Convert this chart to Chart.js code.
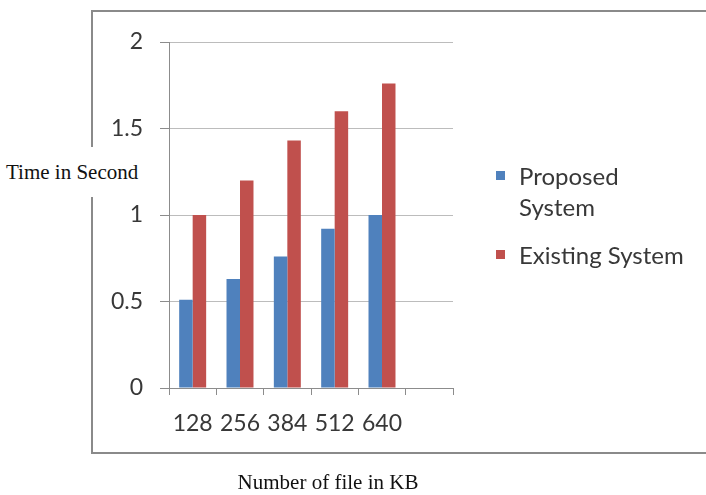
<!DOCTYPE html>
<html>
<head>
<meta charset="utf-8">
<script src="https://cdn.jsdelivr.net/npm/chart.js@4/dist/chart.umd.min.js"></script>
<style>
  body { margin: 0; background: #fff; }
  #wrap { position: relative; width: 706px; height: 495px; overflow: hidden; }
  #frame {
    position: absolute; left: 91px; top: 10px; width: 640px; height: 440px;
    border: 2px solid #8a8a8a;
  }
  canvas { position: absolute; left: 0; top: 0; }
  .axis-title {
    position: absolute; font-family: "Liberation Serif", "Times New Roman", serif;
    font-size: 21px; color: #111; background: #fff; white-space: nowrap;
  }
  #ytitle { left: 0; top: 147px; height: 50px; line-height: 50px; padding: 0 4px 0 6px; }
  #xtitle { left: 0; width: 656px; top: 470px; text-align: center; background: none; }
  #legend {
    position: absolute; left: 496px; top: 160px;
    font-family: Lato, "Open Sans", sans-serif; font-size: 24px; color: #383838;
  }
  .item { position: relative; padding-left: 23px; line-height: 31px; margin-bottom: 17px; }
  .box { position: absolute; left: 0; top: 11px; width: 9px; height: 9px; }
</style>
</head>
<body>
<div id="wrap">
  <div id="frame"></div>
  <canvas id="chart" width="706" height="495"></canvas>
  <div id="ytitle" class="axis-title">Time in Second</div>
  <div id="xtitle" class="axis-title">Number of file in KB</div>
  <div id="legend"></div>
</div>
<script>
const categories = ["128", "256", "384", "512", "640", ""];
const proposed = [0.51, 0.63, 0.76, 0.92, 1.0];
const existing = [1.0, 1.2, 1.43, 1.6, 1.76];
const seriesNames = ["Proposed System", "Existing System"];
const legendLines = [["Proposed", "System"], ["Existing System"]];
const seriesColors = ["#4F81BD", "#C0504D"];
const yTicks = [0, 0.5, 1, 1.5, 2];

const tickFont = { family: "Lato, 'Open Sans', sans-serif", size: 23 };

const ctx = document.getElementById("chart").getContext("2d");
new Chart(ctx, {
  type: "bar",
  data: {
    labels: categories,
    datasets: [
      {
        label: seriesNames[0],
        data: proposed,
        backgroundColor: seriesColors[0],
      },
      {
        label: seriesNames[1],
        data: existing,
        backgroundColor: seriesColors[1],
      },
    ],
  },
  options: {
    responsive: false,
    animation: false,
    layout: { padding: { top: 42, right: 253, left: 0, bottom: 0 } },
    datasets: {
      bar: { categoryPercentage: 0.57, barPercentage: 1.0 },
    },
    scales: {
      x: {
        grid: {
          offset: true,
          drawOnChartArea: false,
          drawTicks: true,
          tickLength: 7,
          color: "#8c8c8c",
        },
        border: { color: "#8c8c8c" },
        ticks: { color: "#383838", font: tickFont, padding: 15, maxRotation: 0 },
        afterFit: (scale) => {
          scale.height = 107;
        },
      },
      y: {
        min: yTicks[0],
        max: yTicks[yTicks.length - 1],
        afterBuildTicks: (scale) => {
          scale.ticks = yTicks.map((v) => ({ value: v }));
        },
        grid: { color: "#bcbcbc", tickLength: 9, tickColor: "#8c8c8c" },
        border: { color: "#8c8c8c" },
        ticks: {
          color: "#383838",
          font: tickFont,
          padding: 17,
          callback: (value) => String(value),
        },
        afterFit: (scale) => {
          scale.width = 169;
        },
      },
    },
    plugins: {
      legend: { display: false },
      tooltip: { enabled: false },
    },
  },
});

const legend = document.getElementById("legend");
seriesNames.forEach((name, i) => {
  const item = document.createElement("div");
  item.className = "item";
  item.innerHTML =
    `<span class="box" style="background:${seriesColors[i]}"></span>` +
    legendLines[i].join("<br>");
  legend.appendChild(item);
});
</script>
</body>
</html>
